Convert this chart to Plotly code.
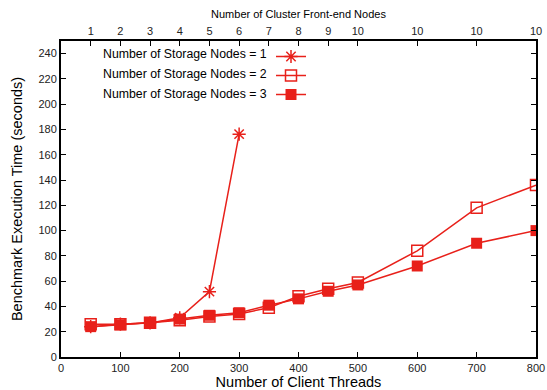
import plotly.graph_objects as go

threads1 = [50, 100, 150, 200, 250, 300]
time1 = [24, 26, 27, 31, 51.7, 176.3]
threads2 = [50, 100, 150, 200, 250, 300, 350, 400, 450, 500, 600, 700, 800]
time2 = [26, 26, 27, 29, 32, 34, 39, 48, 54, 59, 84, 118, 136]
threads3 = [50, 100, 150, 200, 250, 300, 350, 400, 450, 500, 600, 700, 800]
time3 = [24, 25.5, 27, 30, 33, 35, 41, 46, 52, 57, 72, 90, 100]
names = ["Number of Storage Nodes = 1", "Number of Storage Nodes = 2", "Number of Storage Nodes = 3"]
top_tickvals = [50, 100, 150, 200, 250, 300, 350, 400, 450, 500, 600, 700, 800]
top_ticktext = ["1", "2", "3", "4", "5", "6", "7", "8", "9", "10", "10", "10", "10"]

RED = "#e8201a"
FONT = "Liberation Sans, Arial, sans-serif"

fig = go.Figure()
fig.add_trace(go.Scatter(x=threads1, y=time1, mode="lines+markers", name=" ",
                         line=dict(color=RED, width=1.5),
                         marker=dict(symbol="asterisk-open", size=11, color=RED, line=dict(color=RED, width=1.5))))
fig.add_trace(go.Scatter(x=threads2, y=time2, mode="lines+markers", name=" ",
                         line=dict(color=RED, width=1.5),
                         marker=dict(symbol="square-open", size=11, color=RED, line=dict(color=RED, width=1.5))))
fig.add_trace(go.Scatter(x=threads3, y=time3, mode="lines+markers", name=" ",
                         line=dict(color=RED, width=1.5),
                         marker=dict(symbol="square", size=11, color=RED, line=dict(color=RED, width=0))))
# invisible trace to activate top axis
fig.add_trace(go.Scatter(x=[threads2[0]], y=[time2[0]], xaxis="x2", mode="markers",
                         marker=dict(opacity=0), showlegend=False, hoverinfo="skip"))

for i, n in enumerate(names):
    fig.add_annotation(text=n, xref="paper", yref="paper", x=(269 - 61) / 475,
                       y=(357 - (54 + 20 * i)) / 316, xanchor="right", yanchor="middle",
                       showarrow=False, font=dict(family=FONT, size=12.3, color="black"))

axis_common = dict(showgrid=False, zeroline=False, showline=True, linecolor="black", linewidth=2,
                   ticks="inside", ticklen=5, tickcolor="black", tickwidth=1, automargin=False,
                   tickfont=dict(family=FONT, size=11, color="#222"))

fig.update_layout(
    width=547, height=390,
    margin=dict(l=61, r=11, t=41, b=33),
    paper_bgcolor="white", plot_bgcolor="white",
    font=dict(family=FONT, color="black"),
    showlegend=True,
    legend=dict(x=(271 - 61) / 475, y=(357 - 42) / 316, xanchor="left", yanchor="top",
                bgcolor="rgba(0,0,0,0)", tracegroupgap=0, itemwidth=30,
                font=dict(size=6, family=FONT)),
    xaxis=dict(range=[0, 800], tickvals=[0, 100, 200, 300, 400, 500, 600, 700, 800],
               title=dict(text="Number of Client Threads", font=dict(family=FONT, size=14.5), standoff=12),
               mirror=True, **axis_common),
    xaxis2=dict(range=[0, 800], overlaying="x", side="top", tickvals=top_tickvals, ticktext=top_ticktext,
                title=dict(text="Number of Cluster Front-end Nodes", font=dict(family=FONT, size=11), standoff=4),
                **axis_common),
    yaxis=dict(range=[0, 250], tickvals=list(range(0, 241, 20)),
               title=dict(text="Benchmark Execution Time (seconds)", font=dict(family=FONT, size=14.5), standoff=12),
               mirror="ticks", **axis_common),
)

fig.write_html("out.html")
